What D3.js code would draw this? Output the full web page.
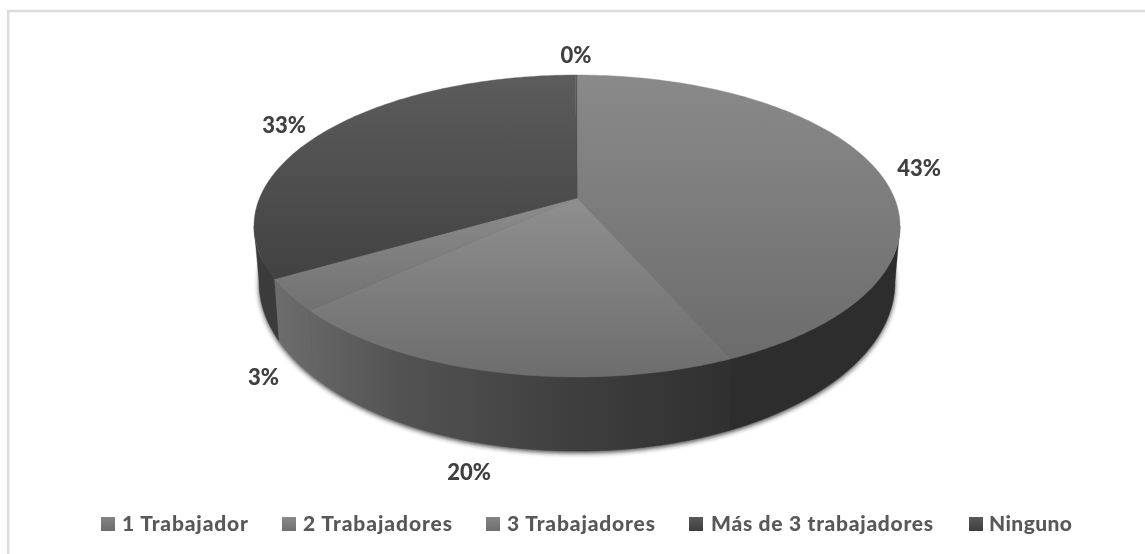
<!DOCTYPE html>
<html><head><meta charset="utf-8">
<script src="https://cdn.jsdelivr.net/npm/d3@7/dist/d3.min.js"></script>
<style>html,body{margin:0;background:#fff}svg{display:block}text{font-family:Lato,"Open Sans",sans-serif;font-weight:900}</style>
</head><body><svg id="c" width="1145" height="554"></svg>
<script>
const categories=["1 Trabajador","2 Trabajadores","3 Trabajadores","Más de 3 trabajadores","Ninguno"];
const values=[43.4,19.8,3.4,33.3,0.1];
const labels=["43%","20%","3%","33%","0%"];
const legendColors=[["#848484","#6c6c6c"],["#8a8a8a","#707070"],["#858585","#6e6e6e"],["#5a5a5a","#3e3e3e"],["#5a5a5a","#3e3e3e"]];
const topColors=[[75,377,"#8a8a8a","#6a6a6a"],[198,377,"#8f8f8f","#6d6d6d"],[198,320,"#8c8c8c","#6f6f6f"],[75,300,"#5c5c5c","#3f3f3f"],[75,300,"#5c5c5c","#3f3f3f"]];
const labelPos=[[919,170],[469,474],[263.5,379],[284,127],[576,57]];
const legendX=[101,282,486,689,969];
const legendTextX=[122,303,507,711,989];
const legendTextW=[126,149,148,222,83];

const svg=d3.select("#c");
const defs=svg.append("defs");
const cx=577, rimK=317.4, a=109.1, b=198, c=-0.1854;
const proj=(ang)=>{const X=Math.sin(ang),Y=-Math.cos(ang),w=1+c*Y;return [cx+rimK*X/w,(a*Y+b)/w];};
const lower=([x,y])=>[cx+(x-cx)*318/323,282+(y-226)*1.12];
const pie=d3.pie().sort(null).value(d=>d)(values);
const step=Math.PI/180;
const arcPts=(s,e)=>{const n=Math.max(2,Math.ceil((e-s)/step));return d3.range(n+1).map(i=>proj(s+(e-s)*i/n));};
const line=d3.line();

defs.append("filter").attr("id","blur").attr("x","-10%").attr("y","-10%").attr("width","120%").attr("height","120%")
  .append("feGaussianBlur").attr("stdDeviation",2.6);
defs.append("filter").attr("id","soft").attr("x","-5%").attr("y","-20%").attr("width","110%").attr("height","140%")
  .append("feGaussianBlur").attr("stdDeviation",0.45);
svg.append("rect").attr("x",8.2).attr("y",11).attr("width",1200).attr("height",600).attr("fill","none").attr("stroke","#dcdcdc").attr("stroke-width",2.5);

const full=arcPts(0,2*Math.PI);
svg.append("path").attr("d",line(full.map(lower).map(([x,y])=>[x,y+2]))+"Z").attr("fill","#222").attr("filter","url(#blur)").attr("opacity",.85);

const sg=defs.append("linearGradient").attr("id","side").attr("gradientUnits","userSpaceOnUse").attr("x1",280).attr("x2",730).attr("y1",0).attr("y2",0);
[[0,"#6c6c6c"],[.27,"#525252"],[.66,"#3e3e3e"],[1,"#303030"]].forEach(([o,col])=>sg.append("stop").attr("offset",o).attr("stop-color",col));
const sideFill=["#2d2d2d","url(#side)","url(#side)","#3b3b3b","#3b3b3b"];
const wallEdge=Math.acos(c), wallEnd=2*Math.PI-wallEdge;
[3,0,1,2].forEach(i=>{const p=pie[i];
  const s=Math.max(p.startAngle,wallEdge),e=Math.min(p.endAngle,wallEnd);
  if(e<=s)return;
  const u=arcPts(s,e);
  svg.append("path").attr("d",line(u.concat(u.map(lower).reverse()))+"Z").attr("fill",sideFill[i]).attr("stroke",sideFill[i]).attr("stroke-width",.4);
});

pie.forEach((p,i)=>{
  const [y1,y2,c1,c2]=topColors[i],id="t"+i,g=defs.append("linearGradient").attr("id",id).attr("gradientUnits","userSpaceOnUse").attr("x1",0).attr("x2",0).attr("y1",y1).attr("y2",y2);
  g.append("stop").attr("offset",0).attr("stop-color",c1);
  g.append("stop").attr("offset",1).attr("stop-color",c2);
  svg.append("path").attr("d",line([[cx,b]].concat(arcPts(p.startAngle,p.endAngle)))+"Z").attr("fill",`url(#${id})`).attr("stroke",`url(#${id})`).attr("stroke-width",.4);
});

labels.forEach((t,i)=>svg.append("text").attr("x",labelPos[i][0]).attr("y",labelPos[i][1]).attr("text-anchor","middle").attr("dominant-baseline","middle").attr("font-size",22).attr("fill","#404040").attr("filter","url(#soft)").text(t));

categories.forEach((t,i)=>{
  const id="l"+i,g=defs.append("linearGradient").attr("id",id).attr("x1",0).attr("x2",0).attr("y1",0).attr("y2",1);
  g.append("stop").attr("offset",0).attr("stop-color",legendColors[i][0]);
  g.append("stop").attr("offset",1).attr("stop-color",legendColors[i][1]);
  svg.append("rect").attr("x",legendX[i]).attr("y",517).attr("width",14).attr("height",14).attr("fill",`url(#${id})`);
  svg.append("text").attr("x",legendTextX[i]).attr("y",531).attr("font-size",21).attr("fill","#595959").attr("textLength",legendTextW[i]).attr("lengthAdjust","spacing").attr("filter","url(#soft)").text(t);
});
</script></body></html>
